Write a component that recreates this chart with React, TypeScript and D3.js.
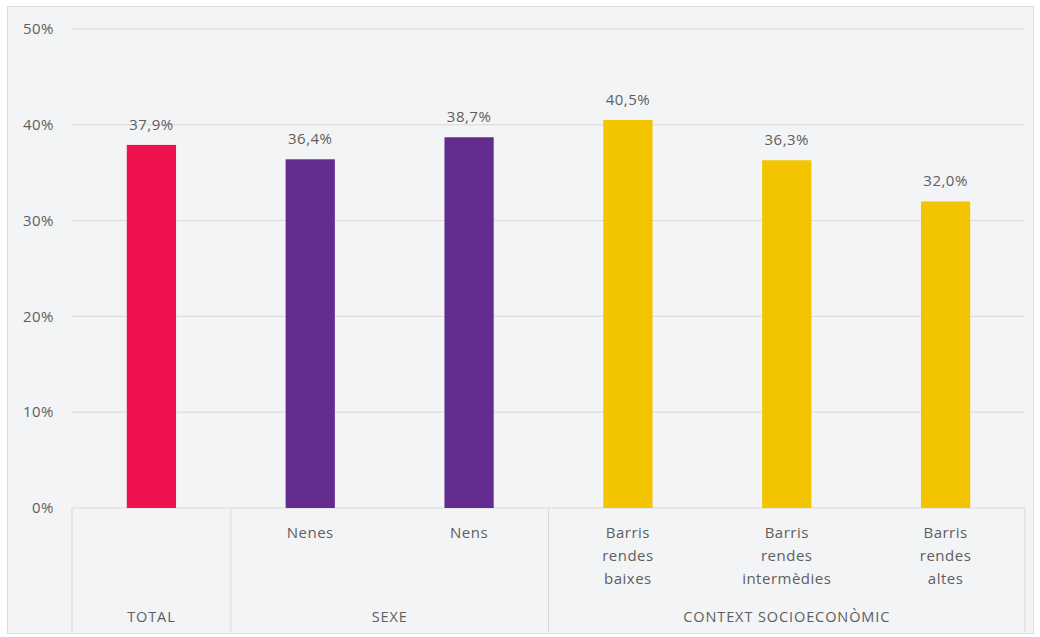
import React from "react";
import * as d3 from "d3";

const categories = ["TOTAL", "Nenes", "Nens", "Barris rendes baixes", "Barris rendes intermèdies", "Barris rendes altes"];
const categoryLines = [[""], ["Nenes"], ["Nens"], ["Barris", "rendes", "baixes"], ["Barris", "rendes", "intermèdies"], ["Barris", "rendes", "altes"]];
const values = [37.9, 36.4, 38.7, 40.5, 36.3, 32.0];
const groups = ["TOTAL", "SEXE", "CONTEXT SOCIOECONÒMIC"];
const groupOf = [0, 1, 1, 2, 2, 2];
const groupColors = ["#F0124F", "#652C90", "#F2C500"];
const yTicks = [0, 10, 20, 30, 40, 50];

const W = 1040, H = 637;
const left = 72, right = 1025, top = 29, bottom = 508;
const font = "'Open Sans', 'Noto Sans', sans-serif";
const textColor = "#5E5E5E";

export default function App() {
  const x = d3.scaleBand<string>().domain(categories).range([left, right]).paddingInner(0.69).paddingOuter(0.345);
  const y = d3.scaleLinear().domain([0, 50]).range([bottom, top]);
  const step = x.step();
  const fmt = (v: number) => v.toFixed(1).replace(".", ",") + "%";

  const groupRanges = groups.map((g, gi) => {
    const idx = groupOf.map((v, i) => (v === gi ? i : -1)).filter((i) => i >= 0);
    const x0 = left + step * idx[0];
    const x1 = left + step * (idx[idx.length - 1] + 1);
    return { g, x0, x1 };
  });
  const seps = [left, ...groupRanges.map((r) => r.x1)];
  const ts = { fontFamily: font, fontSize: 15, fill: textColor, letterSpacing: 0.5 } as const;

  return (
    <svg width={W} height={H} style={{ position: "absolute", left: 0, top: 0, background: "#fff" }}>
      <rect x={7.5} y={6.5} width={1026} height={627} fill="#F3F4F6" stroke="#DCDCDC" />
      {yTicks.map((t) => (
        <g key={t}>
          {t > 0 && <line x1={left} x2={right} y1={y(t)} y2={y(t)} stroke="#D9D9D9" strokeWidth={1} />}
          <text x={54} y={y(t)} dy="0.35em" textAnchor="end" {...ts}>
            {t + "%"}
          </text>
        </g>
      ))}
      <line x1={left} x2={right} y1={bottom} y2={bottom} stroke="#D9D9D9" />
      {seps.map((s, i) => (
        <line key={i} x1={s} x2={s} y1={bottom} y2={632} stroke="#D9D9D9" />
      ))}
      {categories.map((c, i) => {
        const bx = x(c)!;
        const bw = x.bandwidth();
        const v = values[i];
        return (
          <g key={c}>
            <rect x={bx} y={y(v)} width={bw} height={bottom - y(v)} fill={groupColors[groupOf[i]]} />
            <text x={bx + bw / 2} y={y(v) - 15} textAnchor="middle" {...ts}>
              {fmt(v)}
            </text>
            {categoryLines[i].map((l, li) => (
              <text key={li} x={bx + bw / 2} y={533 + li * 23} dy="0.35em" textAnchor="middle" {...ts}>
                {l}
              </text>
            ))}
          </g>
        );
      })}
      {groupRanges.map((r) => (
        <text key={r.g} x={(r.x0 + r.x1) / 2} y={617} dy="0.35em" textAnchor="middle" {...ts} fontSize={14.5} letterSpacing={0.9}>
          {r.g}
        </text>
      ))}
    </svg>
  );
}
